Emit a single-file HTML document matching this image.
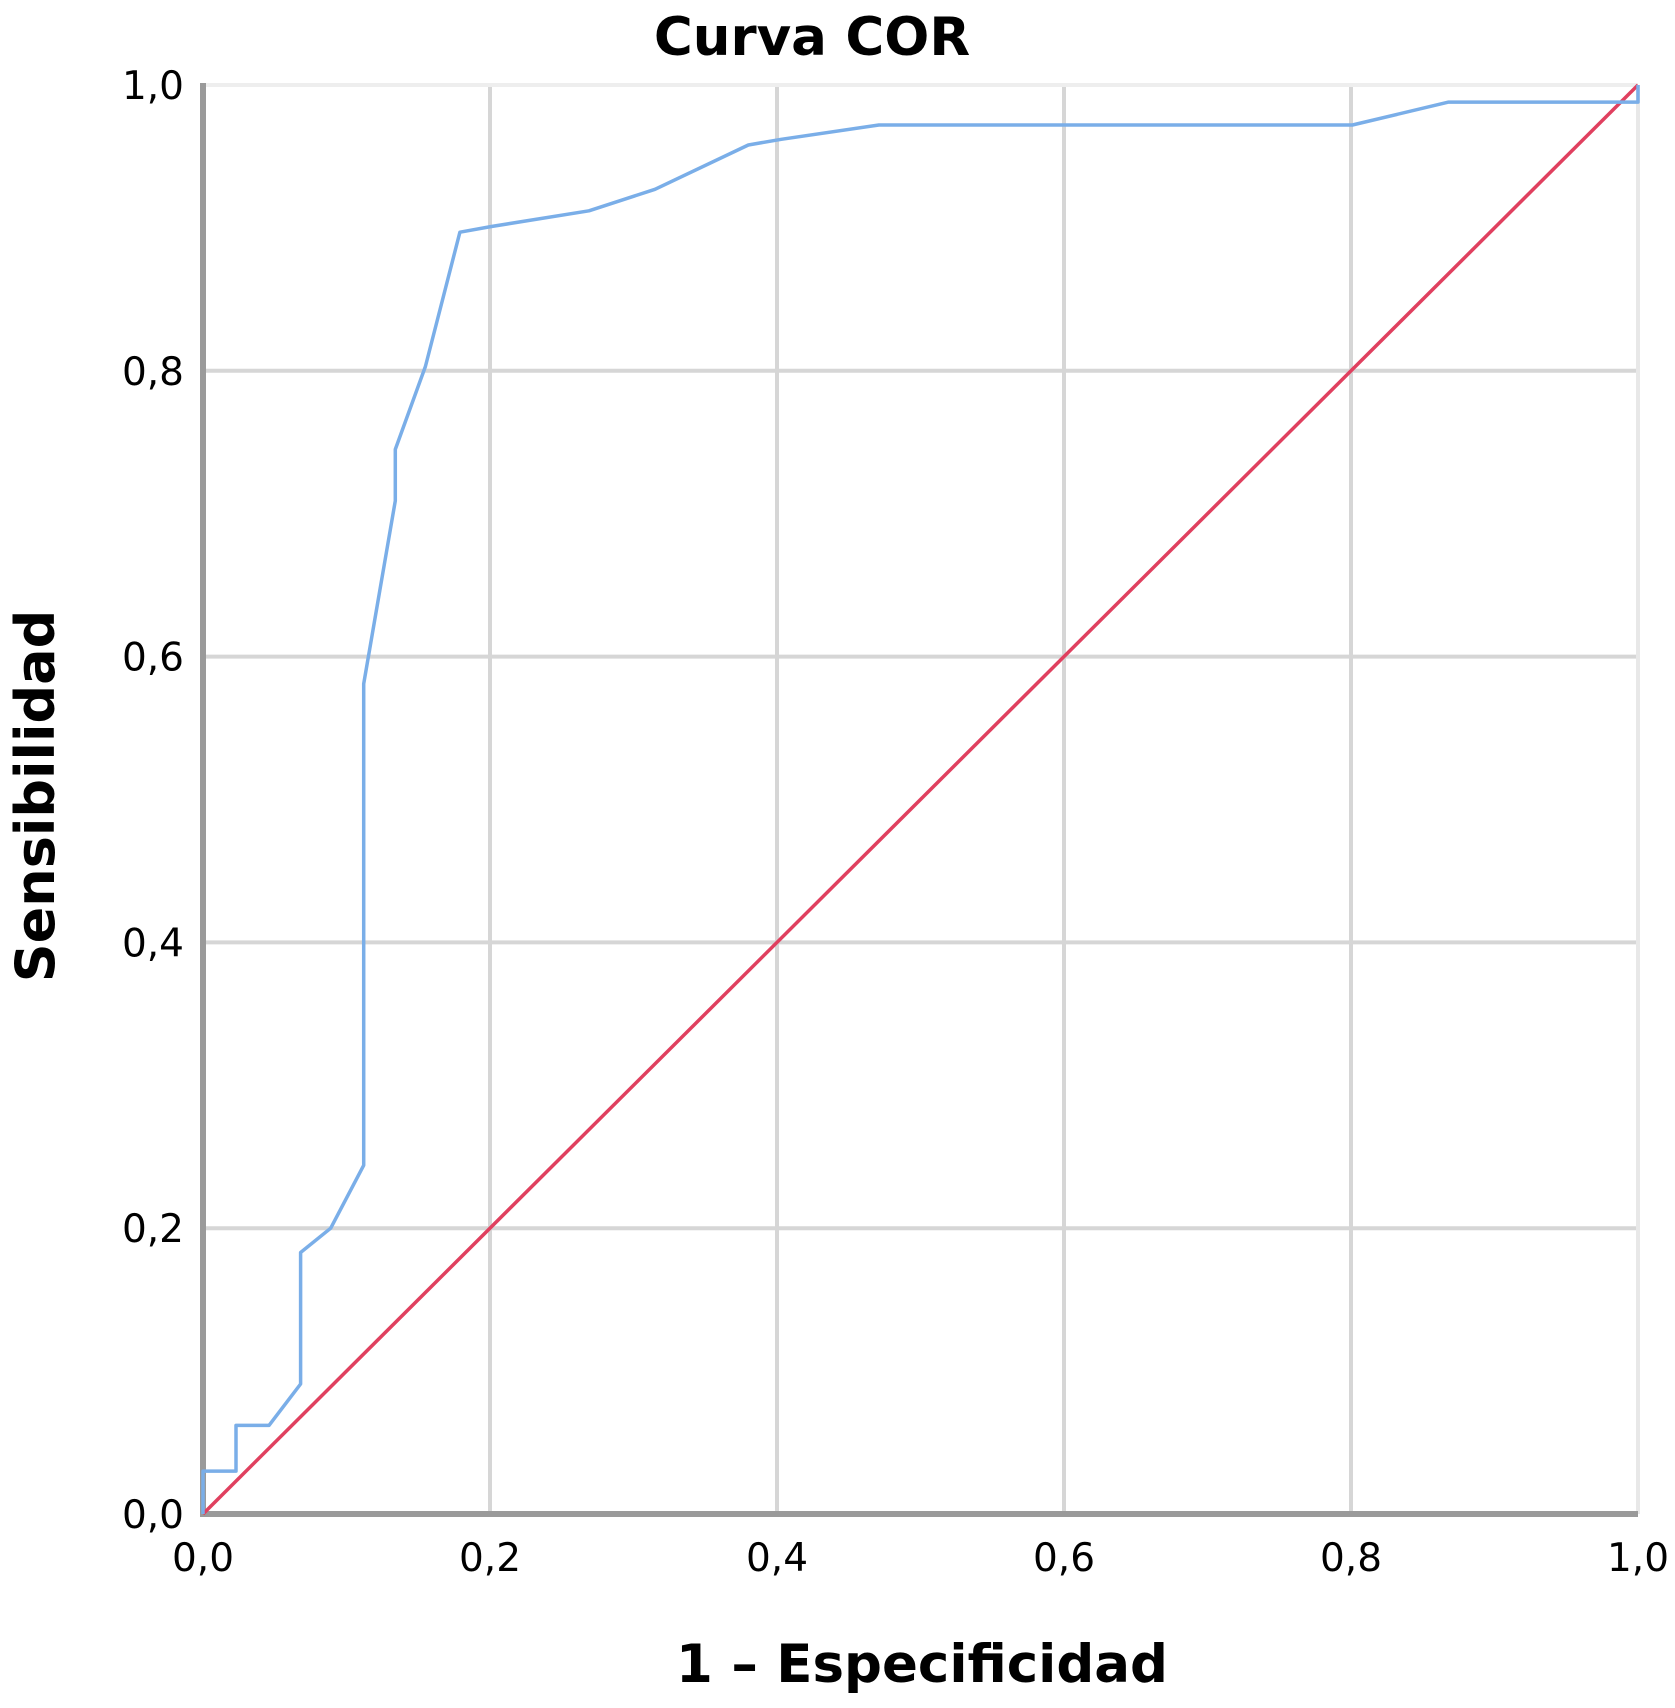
<!DOCTYPE html>
<html><head><meta charset="utf-8"><style>
html,body{margin:0;padding:0;background:#fff;}
svg{display:block;font-family:"DejaVu Sans","Liberation Sans",sans-serif;}
</style></head><body>
<svg id="chart" width="1675" height="1708" viewBox="0 0 1675 1708" xmlns="http://www.w3.org/2000/svg">
<text x="812" y="55" text-anchor="middle" font-size="53" font-weight="bold">Curva COR</text>
<g id="grid"></g>
<g id="ticks"></g>
<g id="series"></g>
<text x="922" y="1682" text-anchor="middle" font-size="53" font-weight="bold">1 – Especificidad</text>
<text transform="translate(54,796) rotate(-90)" text-anchor="middle" font-size="54" font-weight="bold">Sensibilidad</text>
</svg>
<script>
const tickVals = [0, 0.2, 0.4, 0.6, 0.8, 1.0];
const tickLabels = ["0,0", "0,2", "0,4", "0,6", "0,8", "1,0"];
const fprVals = [0,0,0.023,0.023,0.046,0.068,0.068,0.089,0.112,0.112,0.134,0.134,0.155,0.179,0.201,0.269,0.315,0.380,0.403,0.471,0.801,0.868,1,1];
const tprVals = [0,0.030,0.030,0.062,0.062,0.091,0.183,0.200,0.244,0.581,0.709,0.745,0.803,0.897,0.901,0.912,0.927,0.958,0.962,0.972,0.972,0.988,0.988,1];
const refVals = [0, 1];

const X0 = 203, X1 = 1638, Y0 = 1514, Y1 = 85;
function xs(v){ return X0 + v * (X1 - X0); }
function ys(v){ return Y0 - v * (Y0 - Y1); }
const NS = "http://www.w3.org/2000/svg";
function mk(tag, attrs, parent){ const e = document.createElementNS(NS, tag); for (const k in attrs) e.setAttribute(k, attrs[k]); parent.appendChild(e); return e; }

const grid = document.getElementById('grid');
const ticks = document.getElementById('ticks');
const series = document.getElementById('series');

tickVals.forEach((v, i) => {
  if (v > 0) {
    const gv = mk('line', {x1: xs(v), x2: xs(v), y1: ys(0), y2: ys(1), stroke: v === 1 ? '#e8e8e8' : '#d6d6d6', 'stroke-width': 4}, grid);
    
    
    const gh = mk('line', {x1: xs(0), x2: xs(1), y1: ys(v), y2: ys(v), stroke: v === 1 ? '#eeeeee' : '#d6d6d6', 'stroke-width': 4}, grid);
    
    
  }
  const tx = mk('text', {x: xs(v), y: 1571, 'text-anchor': 'middle', 'font-size': 39}, ticks);
  tx.textContent = tickLabels[i];
  
  
  const ty = mk('text', {x: 184, y: ys(v) + 14, 'text-anchor': 'end', 'font-size': 39}, ticks);
  ty.textContent = tickLabels[i];
  
  
});
const ax = mk('line', {x1: xs(0), x2: xs(0), y1: ys(1) - 2, y2: ys(0) + 3, stroke: '#9a9a9a', 'stroke-width': 6}, grid);


const axx = mk('line', {x1: xs(0) - 3, x2: xs(1), y1: ys(0), y2: ys(0), stroke: '#9a9a9a', 'stroke-width': 6}, grid);



const ref = mk('line', {x1: xs(refVals[0]), y1: ys(refVals[0]), x2: xs(refVals[1]), y2: ys(refVals[1]), stroke: '#e0405f', 'stroke-width': 3.5}, series);



const pts = fprVals.map((f, i) => xs(f).toFixed(1) + ',' + ys(tprVals[i]).toFixed(1)).join(' ');
const roc = mk('polyline', {points: pts, fill: 'none', stroke: '#7aaee8', 'stroke-width': 3.5, 'stroke-linejoin': 'round'}, series);


</script>
</body></html>
